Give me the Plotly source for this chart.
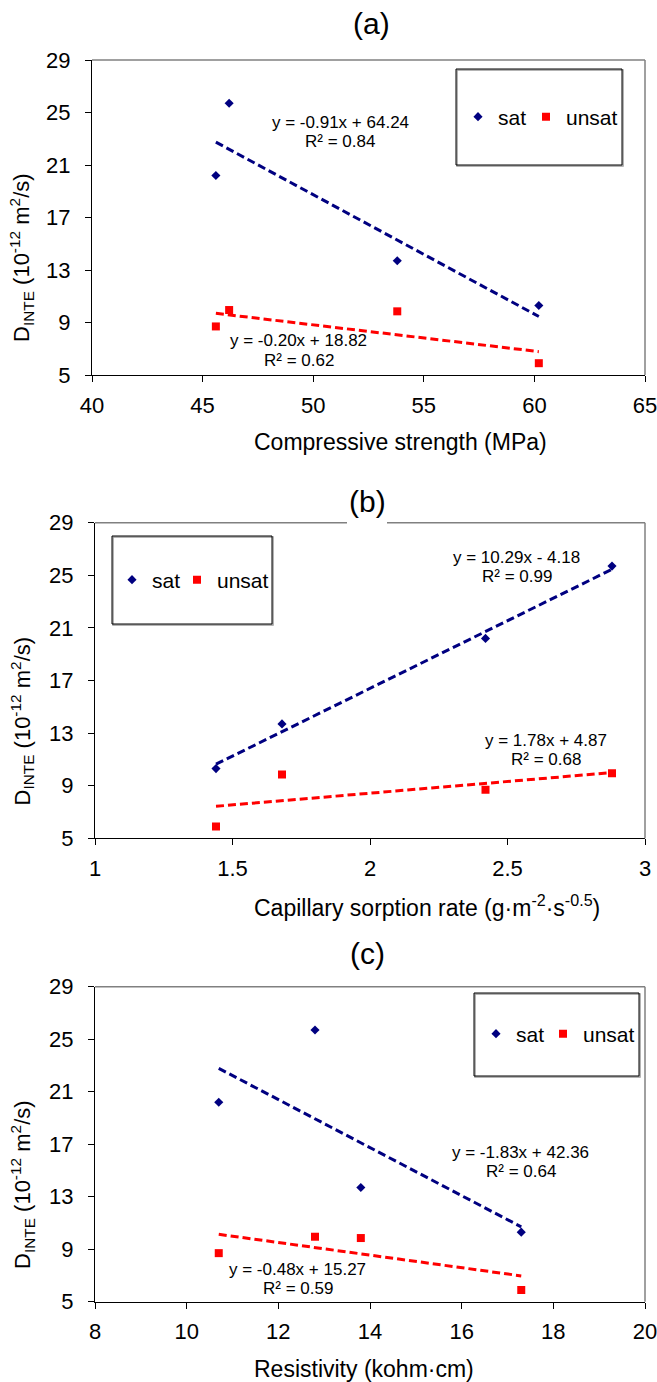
import plotly.graph_objects as go

W, H = 657, 1382
FONT = "Liberation Sans, Arial, Helvetica, sans-serif"

# ---------------- data ----------------
compressive_strength = [46.2, 45.6, 53.8, 60.2]      # MPa
capillary_rate = [2.88, 2.42, 1.68, 1.44]            # g·m-2·s-0.5
resistivity = [12.8, 10.7, 13.8, 17.3]               # kohm·cm
d_sat = [25.7, 20.2, 13.7, 10.3]                     # 10^-12 m2/s
d_unsat = [9.95, 8.7, 9.85, 5.9]                     # 10^-12 m2/s

sat_slope = [-0.91, 10.29, -1.83]
sat_intercept = [64.24, -4.18, 42.36]
sat_r2 = [0.84, 0.99, 0.64]
unsat_slope = [-0.20, 1.78, -0.48]
unsat_intercept = [18.82, 4.87, 15.27]
unsat_r2 = [0.62, 0.68, 0.59]

panel_titles = ["(a)", "(b)", "(c)"]
x_titles = ["Compressive strength (MPa)",
            "Capillary sorption rate (g·m<sup>-2</sup>·s<sup>-0.5</sup>)",
            "Resistivity (kohm·cm)"]
y_title = "D<sub>INTE</sub> (10<sup>-12</sup> m<sup>2</sup>/s)"
x_ticks = [[40, 45, 50, 55, 60, 65],
           [1, 1.5, 2, 2.5, 3],
           [8, 10, 12, 14, 16, 18, 20]]
y_ticks = [5, 9, 13, 17, 21, 25, 29]
x_data = [compressive_strength, capillary_rate, resistivity]

# ---------------- layout geometry (pixels) ----------------
plot_box = [  # left, right, top, bottom
    (92, 645, 60, 375),
    (95, 645, 522.7, 838.3),
    (95, 645, 986.7, 1301.7),
]
title_pos = [(371, 24), (367, 501), (367, 954)]
xtitle_pos = [(252, 442), (252, 906), (252, 1369)]
ytitle_pos = [(22, 258), (22, 721.5), (22, 1185)]
legend_box = [(456, 622, 69, 165), (112, 272, 536, 624), (474, 639, 993, 1076)]
legend_item = [(478, 117, 68), (132, 580, 65), (496, 1034, 67)]   # sat symbol x, y, item spacing
eq_sat_pos = [(340, 122.7, 141.7), (516.6, 557.3, 576), (520.8, 1152.7, 1171.7)]
eq_unsat_pos = [(298.5, 340.7, 360), (545.5, 740, 759.3), (297.6, 1269.3, 1288.3)]
top_gap = [None, (347, 387), None]

NAVY = "#000080"
RED = "#FF0000"


def px(x):
    return x / W


def py(y):
    return 1 - y / H


def fmt_eq(m, b):
    sign = "+" if b >= 0 else "-"
    return f"y = {m:.2f}x {sign} {abs(b):.2f}"


fig = go.Figure()
annotations = []
shapes = []
legend_names = ["legend", "legend2", "legend3"]

for i in range(3):
    xa = "x" if i == 0 else f"x{i+1}"
    ya = "y" if i == 0 else f"y{i+1}"
    xs = x_data[i]
    leg = legend_names[i]
    sx, sy, spacing = legend_item[i]

    # scatter points
    fig.add_trace(go.Scatter(
        x=xs, y=d_sat, mode="markers", name="sat", xaxis=xa, yaxis=ya,
        marker=dict(symbol="diamond", size=7, color=NAVY),
        legend=leg, legendwidth=spacing - 45, showlegend=True))
    fig.add_trace(go.Scatter(
        x=xs, y=d_unsat, mode="markers", name="unsat", xaxis=xa, yaxis=ya,
        marker=dict(symbol="square", size=8, color=RED),
        legend=leg, legendwidth=62, showlegend=True))

    # trend lines
    x0, x1 = min(xs), max(xs)
    fig.add_trace(go.Scatter(
        x=[x0, x1], y=[sat_slope[i] * x0 + sat_intercept[i], sat_slope[i] * x1 + sat_intercept[i]],
        mode="lines", xaxis=xa, yaxis=ya, showlegend=False, hoverinfo="skip",
        line=dict(color=NAVY, width=3, dash="8px,4px")))
    fig.add_trace(go.Scatter(
        x=[x0, x1], y=[unsat_slope[i] * x0 + unsat_intercept[i], unsat_slope[i] * x1 + unsat_intercept[i]],
        mode="lines", xaxis=xa, yaxis=ya, showlegend=False, hoverinfo="skip",
        line=dict(color=RED, width=3, dash="8px,4px")))

    L, R, T, B = plot_box[i]
    xt = x_ticks[i]
    fig.layout[("xaxis" if i == 0 else f"xaxis{i+1}")] = dict(
        domain=[px(L), px(R)], anchor=ya, range=[xt[0], xt[-1]],
        tickmode="array", tickvals=xt, ticktext=[f"{v:g}" for v in xt],
        showline=True, linecolor="#000000", linewidth=1.2,
        ticks="outside", ticklen=6, tickwidth=1, tickcolor="#000000",
        showgrid=False, zeroline=False, ticklabelstandoff=4,
        ticklabeloverflow="allow",
        tickfont=dict(family=FONT, size=22, color="#000000"))
    fig.layout[("yaxis" if i == 0 else f"yaxis{i+1}")] = dict(
        domain=[py(B), py(T)], anchor=xa, range=[5, 29],
        tickmode="array", tickvals=y_ticks, ticktext=[str(v) for v in y_ticks],
        showline=True, linecolor="#000000", linewidth=1.2,
        ticks="outside", ticklen=6, tickwidth=1, tickcolor="#000000",
        showgrid=False, zeroline=False, ticklabelstandoff=10,
        ticklabeloverflow="allow",
        tickfont=dict(family=FONT, size=22, color="#000000"))

    # grey top / right border of plot area
    if top_gap[i] is None:
        shapes.append(dict(type="line", xref="paper", yref="paper",
                           x0=px(L), x1=px(R), y0=py(T), y1=py(T),
                           line=dict(color="#808080", width=1.5)))
    else:
        g0, g1 = top_gap[i]
        for a, b in [(L, g0), (g1, R)]:
            shapes.append(dict(type="line", xref="paper", yref="paper",
                               x0=px(a), x1=px(b), y0=py(T), y1=py(T),
                               line=dict(color="#808080", width=1.5)))
    shapes.append(dict(type="line", xref="paper", yref="paper",
                       x0=px(R), x1=px(R), y0=py(T), y1=py(B),
                       line=dict(color="#808080", width=1.5)))

    # legend box
    lx0, lx1, ly0, ly1 = legend_box[i]
    shapes.append(dict(type="rect", xref="paper", yref="paper",
                       x0=px(lx0 + 1), x1=px(lx1 + 1), y0=py(ly0 + 1), y1=py(ly1 + 1),
                       line=dict(color="#9a9a9a", width=1.5), fillcolor="rgba(0,0,0,0)"))
    shapes.append(dict(type="rect", xref="paper", yref="paper",
                       x0=px(lx0), x1=px(lx1), y0=py(ly0), y1=py(ly1),
                       line=dict(color="#000000", width=1), fillcolor="rgba(0,0,0,0)"))

    fig.layout[leg] = dict(
        orientation="h", x=px(sx - 20), xanchor="left", y=py(sy), yanchor="middle",
        bgcolor="rgba(0,0,0,0)", borderwidth=0, entrywidthmode="pixels",
        font=dict(family=FONT, size=21, color="#000000"), itemsizing="trace",
        tracegroupgap=0)

    # titles
    tx, ty = title_pos[i]
    annotations.append(dict(text=panel_titles[i], xref="paper", yref="paper",
                            x=px(tx), y=py(ty), xanchor="center", yanchor="middle",
                            showarrow=False,
                            font=dict(family=FONT, size=30, color="#000000")))
    xtx, xty = xtitle_pos[i]
    annotations.append(dict(text=x_titles[i], xref="paper", yref="paper",
                            x=px(xtx), y=py(xty), xanchor="left", yanchor="middle",
                            showarrow=False,
                            font=dict(family=FONT, size=23, color="#000000")))
    ytx, yty = ytitle_pos[i]
    annotations.append(dict(text=y_title, xref="paper", yref="paper",
                            x=px(ytx), y=py(yty), xanchor="center", yanchor="middle",
                            textangle=-90, showarrow=False,
                            font=dict(family=FONT, size=22, color="#000000")))

    # equations
    ex, ey1, ey2 = eq_sat_pos[i]
    annotations.append(dict(text=fmt_eq(sat_slope[i], sat_intercept[i]), xref="paper", yref="paper",
                            x=px(ex), y=py(ey1), xanchor="center", yanchor="middle",
                            showarrow=False, font=dict(family=FONT, size=17, color="#000000")))
    annotations.append(dict(text=f"R² = {sat_r2[i]:.2f}", xref="paper", yref="paper",
                            x=px(ex), y=py(ey2), xanchor="center", yanchor="middle",
                            showarrow=False, font=dict(family=FONT, size=17, color="#000000")))
    ex, ey1, ey2 = eq_unsat_pos[i]
    annotations.append(dict(text=fmt_eq(unsat_slope[i], unsat_intercept[i]), xref="paper", yref="paper",
                            x=px(ex), y=py(ey1), xanchor="center", yanchor="middle",
                            showarrow=False, font=dict(family=FONT, size=17, color="#000000")))
    annotations.append(dict(text=f"R² = {unsat_r2[i]:.2f}", xref="paper", yref="paper",
                            x=px(ex), y=py(ey2), xanchor="center", yanchor="middle",
                            showarrow=False, font=dict(family=FONT, size=17, color="#000000")))

fig.update_layout(
    width=W, height=H, margin=dict(l=0, r=0, t=0, b=0, autoexpand=False),
    paper_bgcolor="white", plot_bgcolor="white",
    font=dict(family=FONT, color="#000000"),
    annotations=annotations, shapes=shapes, hovermode=False,
)

fig.write_html("out.html")
